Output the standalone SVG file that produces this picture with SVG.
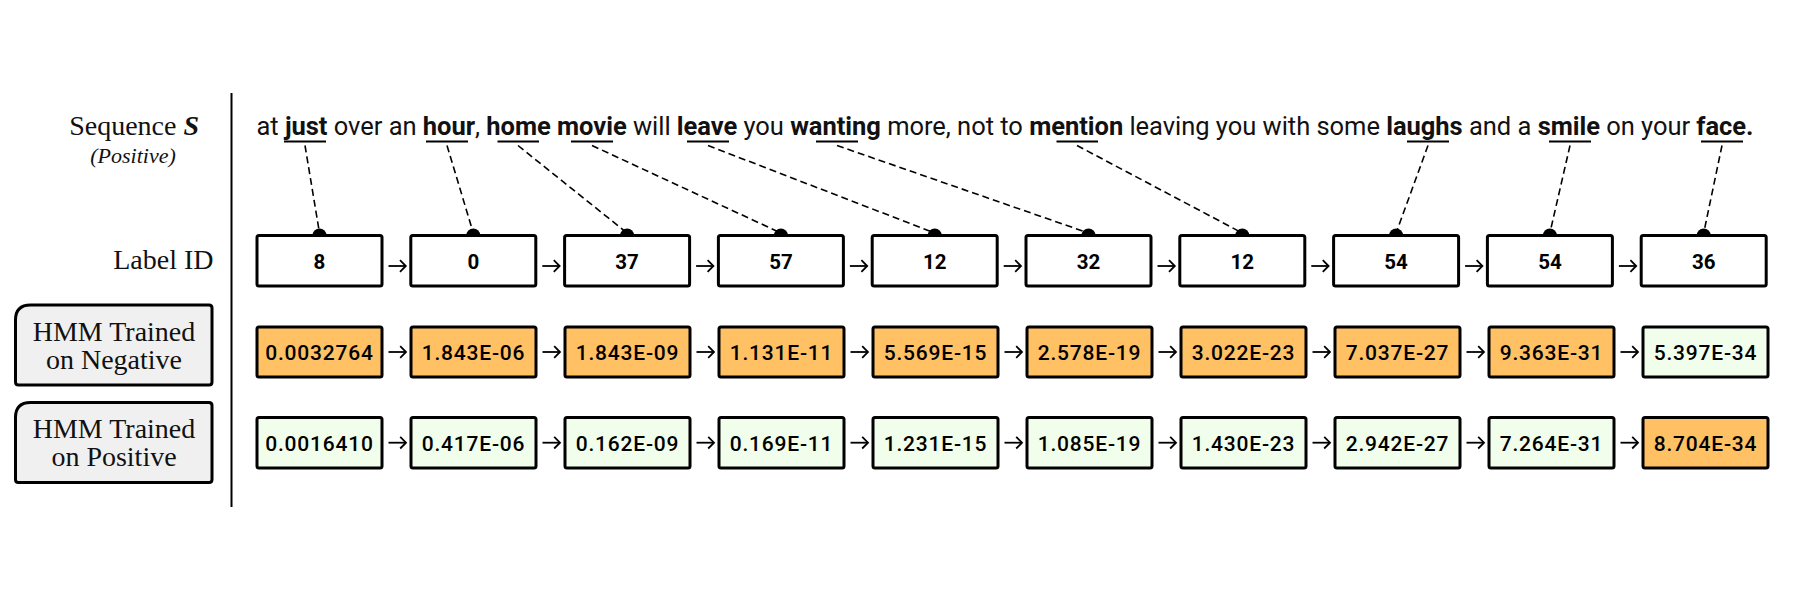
<svg xmlns="http://www.w3.org/2000/svg" width="1815" height="601" viewBox="0 0 1815 601">
<style>
.serif{font-family:"Liberation Serif","DejaVu Serif",serif;font-size:28px;fill:#111}
.small{font-size:22px;font-style:italic}
.sent{font-family:Roboto,"Liberation Sans",sans-serif;font-size:25.5px;fill:#111}
.b{font-weight:700}
.box{stroke:#000;stroke-width:3}
.lbl{fill:#fff}
.or{fill:#FFC164}
.gr{fill:#F2FEEC}
.id{font-family:Roboto,"Liberation Sans",sans-serif;font-size:20.5px;font-weight:700;text-anchor:middle;fill:#000}
.val{font-family:Roboto,"Liberation Sans",sans-serif;font-size:21px;font-weight:500;text-anchor:middle;fill:#000;letter-spacing:0.8px}
.hmm{fill:#F0F0F0;stroke:#000;stroke-width:3}
.dash{stroke:#000;stroke-width:1.6;stroke-dasharray:7 4;fill:none}
.ul{stroke:#000;stroke-width:2}
.arr{stroke:#000;stroke-width:1.8;fill:none;marker-end:url(#ah)}
</style>
<defs>
<marker id="ah" markerUnits="userSpaceOnUse" markerWidth="10" markerHeight="16" refX="7" refY="8" orient="auto" viewBox="0 0 10 16">
<path d="M1.2,2.2 L7,8 L1.2,13.8" fill="none" stroke="#000" stroke-width="1.8"/>
</marker>
</defs>
<rect width="1815" height="601" fill="#fff"/>

<g id="left-labels">
<text class="serif" x="199" y="135" text-anchor="end">Sequence <tspan font-weight="bold" font-style="italic">S</tspan></text>
<text class="serif small" x="133" y="163" text-anchor="middle">(Positive)</text>
<text class="serif" x="213.5" y="269" text-anchor="end">Label ID</text>
</g>
<line x1="231.5" y1="93" x2="231.5" y2="507" stroke="#000" stroke-width="2"/>

<g id="hmm-neg">
<path class="hmm" d="M15.5,320 Q15.5,305 30.5,305 L209,305 Q212,305 212,308 L212,382 Q212,385 209,385 L18.5,385 Q15.5,385 15.5,382 Z"/>
<text class="serif" x="114" y="341" text-anchor="middle">HMM Trained</text>
<text class="serif" x="114" y="369" text-anchor="middle">on Negative</text>
</g>
<g id="hmm-pos">
<path class="hmm" d="M15.5,417.5 Q15.5,402.5 30.5,402.5 L209,402.5 Q212,402.5 212,405.5 L212,479.5 Q212,482.5 209,482.5 L18.5,482.5 Q15.5,482.5 15.5,479.5 Z"/>
<text class="serif" x="114" y="438" text-anchor="middle">HMM Trained</text>
<text class="serif" x="114" y="466" text-anchor="middle">on Positive</text>
</g>

<g id="sentence">
<text class="sent" x="256.5" y="134.5" textLength="1497" lengthAdjust="spacing">at <tspan class="b">just</tspan> over an <tspan class="b">hour</tspan>, <tspan class="b">home movie</tspan> will <tspan class="b">leave</tspan> you <tspan class="b">wanting</tspan> more, not to <tspan class="b">mention</tspan> leaving you with some <tspan class="b">laughs</tspan> and a <tspan class="b">smile</tspan> on your <tspan class="b">face.</tspan></text>
<g class="ul">
<line x1="284" y1="141.5" x2="326" y2="141.5"/>
<line x1="426" y1="141.5" x2="468" y2="141.5"/>
<line x1="497.5" y1="141.5" x2="539" y2="141.5"/>
<line x1="571" y1="141.5" x2="613" y2="141.5"/>
<line x1="687" y1="141.5" x2="729" y2="141.5"/>
<line x1="816" y1="141.5" x2="858" y2="141.5"/>
<line x1="1056.5" y1="141.5" x2="1098" y2="141.5"/>
<line x1="1407" y1="141.5" x2="1449" y2="141.5"/>
<line x1="1549" y1="141.5" x2="1591" y2="141.5"/>
<line x1="1701" y1="141.5" x2="1743" y2="141.5"/>
</g>
</g>

<g id="connectors">
<line class="dash" x1="305" y1="145.5" x2="319.5" y2="233"/>
<line class="dash" x1="447" y1="145.5" x2="473.3" y2="233"/>
<line class="dash" x1="518" y1="145.5" x2="627.1" y2="233"/>
<line class="dash" x1="592" y1="145.5" x2="780.9" y2="233"/>
<line class="dash" x1="708" y1="145.5" x2="934.7" y2="233"/>
<line class="dash" x1="837" y1="145.5" x2="1088.5" y2="233"/>
<line class="dash" x1="1077" y1="145.5" x2="1242.3" y2="233"/>
<line class="dash" x1="1428" y1="145.5" x2="1396.1" y2="233"/>
<line class="dash" x1="1570" y1="145.5" x2="1549.9" y2="233"/>
<line class="dash" x1="1722" y1="145.5" x2="1703.7" y2="233"/>
<g fill="#000">
<circle cx="319.5" cy="235.5" r="7"/>
<circle cx="473.3" cy="235.5" r="7"/>
<circle cx="627.1" cy="235.5" r="7"/>
<circle cx="780.9" cy="235.5" r="7"/>
<circle cx="934.7" cy="235.5" r="7"/>
<circle cx="1088.5" cy="235.5" r="7"/>
<circle cx="1242.3" cy="235.5" r="7"/>
<circle cx="1396.1" cy="235.5" r="7"/>
<circle cx="1549.9" cy="235.5" r="7"/>
<circle cx="1703.7" cy="235.5" r="7"/>
</g>
<line class="arr" x1="388.5" y1="266" x2="405.8" y2="266"/>
<line class="arr" x1="542.3" y1="266" x2="559.6" y2="266"/>
<line class="arr" x1="696.1" y1="266" x2="713.4" y2="266"/>
<line class="arr" x1="849.9" y1="266" x2="867.2" y2="266"/>
<line class="arr" x1="1003.7" y1="266" x2="1021" y2="266"/>
<line class="arr" x1="1157.5" y1="266" x2="1174.8" y2="266"/>
<line class="arr" x1="1311.3" y1="266" x2="1328.6" y2="266"/>
<line class="arr" x1="1465.1" y1="266" x2="1482.4" y2="266"/>
<line class="arr" x1="1618.9" y1="266" x2="1636.2" y2="266"/>

<line class="arr" x1="388.5" y1="352" x2="406" y2="352"/>
<line class="arr" x1="542.5" y1="352" x2="560" y2="352"/>
<line class="arr" x1="696.5" y1="352" x2="714" y2="352"/>
<line class="arr" x1="850.5" y1="352" x2="868" y2="352"/>
<line class="arr" x1="1004.5" y1="352" x2="1022" y2="352"/>
<line class="arr" x1="1158.5" y1="352" x2="1176" y2="352"/>
<line class="arr" x1="1312.5" y1="352" x2="1330" y2="352"/>
<line class="arr" x1="1466.5" y1="352" x2="1484" y2="352"/>
<line class="arr" x1="1620.5" y1="352" x2="1638" y2="352"/>

<line class="arr" x1="388.5" y1="442.7" x2="406" y2="442.7"/>
<line class="arr" x1="542.5" y1="442.7" x2="560" y2="442.7"/>
<line class="arr" x1="696.5" y1="442.7" x2="714" y2="442.7"/>
<line class="arr" x1="850.5" y1="442.7" x2="868" y2="442.7"/>
<line class="arr" x1="1004.5" y1="442.7" x2="1022" y2="442.7"/>
<line class="arr" x1="1158.5" y1="442.7" x2="1176" y2="442.7"/>
<line class="arr" x1="1312.5" y1="442.7" x2="1330" y2="442.7"/>
<line class="arr" x1="1466.5" y1="442.7" x2="1484" y2="442.7"/>
<line class="arr" x1="1620.5" y1="442.7" x2="1638" y2="442.7"/>
</g>

<g id="label-row">
<g id="lid1"><rect class="box lbl" x="257" y="235.5" width="125" height="50.5" rx="2"/><text class="id" x="319.5" y="268.5">8</text></g>
<g id="lid2"><rect class="box lbl" x="410.8" y="235.5" width="125" height="50.5" rx="2"/><text class="id" x="473.3" y="268.5">0</text></g>
<g id="lid3"><rect class="box lbl" x="564.6" y="235.5" width="125" height="50.5" rx="2"/><text class="id" x="627.1" y="268.5">37</text></g>
<g id="lid4"><rect class="box lbl" x="718.4" y="235.5" width="125" height="50.5" rx="2"/><text class="id" x="780.9" y="268.5">57</text></g>
<g id="lid5"><rect class="box lbl" x="872.2" y="235.5" width="125" height="50.5" rx="2"/><text class="id" x="934.7" y="268.5">12</text></g>
<g id="lid6"><rect class="box lbl" x="1026" y="235.5" width="125" height="50.5" rx="2"/><text class="id" x="1088.5" y="268.5">32</text></g>
<g id="lid7"><rect class="box lbl" x="1179.8" y="235.5" width="125" height="50.5" rx="2"/><text class="id" x="1242.3" y="268.5">12</text></g>
<g id="lid8"><rect class="box lbl" x="1333.6" y="235.5" width="125" height="50.5" rx="2"/><text class="id" x="1396.1" y="268.5">54</text></g>
<g id="lid9"><rect class="box lbl" x="1487.4" y="235.5" width="125" height="50.5" rx="2"/><text class="id" x="1549.9" y="268.5">54</text></g>
<g id="lid10"><rect class="box lbl" x="1641.2" y="235.5" width="125" height="50.5" rx="2"/><text class="id" x="1703.7" y="268.5">36</text></g>
</g>

<g id="neg-row">
<g id="neg1"><rect class="box or" x="257" y="327" width="125" height="50" rx="2"/><text class="val" x="319.5" y="360">0.0032764</text></g>
<g id="neg2"><rect class="box or" x="411" y="327" width="125" height="50" rx="2"/><text class="val" x="473.5" y="360">1.843E-06</text></g>
<g id="neg3"><rect class="box or" x="565" y="327" width="125" height="50" rx="2"/><text class="val" x="627.5" y="360">1.843E-09</text></g>
<g id="neg4"><rect class="box or" x="719" y="327" width="125" height="50" rx="2"/><text class="val" x="781.5" y="360">1.131E-11</text></g>
<g id="neg5"><rect class="box or" x="873" y="327" width="125" height="50" rx="2"/><text class="val" x="935.5" y="360">5.569E-15</text></g>
<g id="neg6"><rect class="box or" x="1027" y="327" width="125" height="50" rx="2"/><text class="val" x="1089.5" y="360">2.578E-19</text></g>
<g id="neg7"><rect class="box or" x="1181" y="327" width="125" height="50" rx="2"/><text class="val" x="1243.5" y="360">3.022E-23</text></g>
<g id="neg8"><rect class="box or" x="1335" y="327" width="125" height="50" rx="2"/><text class="val" x="1397.5" y="360">7.037E-27</text></g>
<g id="neg9"><rect class="box or" x="1489" y="327" width="125" height="50" rx="2"/><text class="val" x="1551.5" y="360">9.363E-31</text></g>
<g id="neg10"><rect class="box gr" x="1643" y="327" width="125" height="50" rx="2"/><text class="val" x="1705.5" y="360">5.397E-34</text></g>
</g>

<g id="pos-row">
<g id="pos1"><rect class="box gr" x="257" y="417.5" width="125" height="50.5" rx="2"/><text class="val" x="319.5" y="451">0.0016410</text></g>
<g id="pos2"><rect class="box gr" x="411" y="417.5" width="125" height="50.5" rx="2"/><text class="val" x="473.5" y="451">0.417E-06</text></g>
<g id="pos3"><rect class="box gr" x="565" y="417.5" width="125" height="50.5" rx="2"/><text class="val" x="627.5" y="451">0.162E-09</text></g>
<g id="pos4"><rect class="box gr" x="719" y="417.5" width="125" height="50.5" rx="2"/><text class="val" x="781.5" y="451">0.169E-11</text></g>
<g id="pos5"><rect class="box gr" x="873" y="417.5" width="125" height="50.5" rx="2"/><text class="val" x="935.5" y="451">1.231E-15</text></g>
<g id="pos6"><rect class="box gr" x="1027" y="417.5" width="125" height="50.5" rx="2"/><text class="val" x="1089.5" y="451">1.085E-19</text></g>
<g id="pos7"><rect class="box gr" x="1181" y="417.5" width="125" height="50.5" rx="2"/><text class="val" x="1243.5" y="451">1.430E-23</text></g>
<g id="pos8"><rect class="box gr" x="1335" y="417.5" width="125" height="50.5" rx="2"/><text class="val" x="1397.5" y="451">2.942E-27</text></g>
<g id="pos9"><rect class="box gr" x="1489" y="417.5" width="125" height="50.5" rx="2"/><text class="val" x="1551.5" y="451">7.264E-31</text></g>
<g id="pos10"><rect class="box or" x="1643" y="417.5" width="125" height="50.5" rx="2"/><text class="val" x="1705.5" y="451">8.704E-34</text></g>
</g>
</svg>
